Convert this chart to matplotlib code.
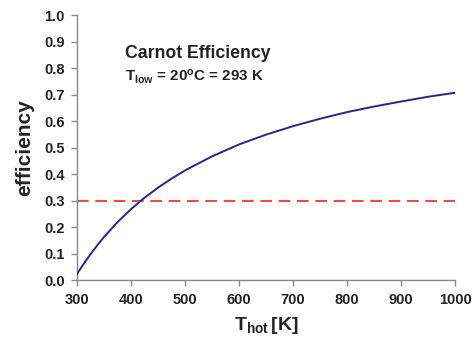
import numpy as np
import matplotlib
matplotlib.use("Agg")
import matplotlib.pyplot as plt

plt.rcParams["font.family"] = ["Liberation Sans", "DejaVu Sans"]
plt.rcParams["font.weight"] = "bold"
plt.rcParams["mathtext.fontset"] = "custom"
plt.rcParams["mathtext.rm"] = "Liberation Sans:bold"
plt.rcParams["mathtext.it"] = "Liberation Sans:bold"
plt.rcParams["mathtext.bf"] = "Liberation Sans:bold"
plt.rcParams["mathtext.default"] = "rm"

# values
t_hot = [300, 310, 325, 340, 350, 375, 400, 425, 450, 475, 500, 550, 600,
         650, 700, 750, 800, 850, 900, 950, 1000]
efficiency = [0.023, 0.055, 0.098, 0.138, 0.163, 0.219, 0.268, 0.311, 0.349,
              0.383, 0.414, 0.467, 0.512, 0.549, 0.581, 0.609, 0.634, 0.655,
              0.674, 0.692, 0.707]
ref_level = 0.3
x_ticks = [300, 400, 500, 600, 700, 800, 900, 1000]
y_ticks = [0.0, 0.1, 0.2, 0.3, 0.4, 0.5, 0.6, 0.7, 0.8, 0.9, 1.0]

fig = plt.figure(figsize=(4.73, 3.37), dpi=100)
ax = fig.add_axes([0.163, 0.169, 0.799, 0.786])

ax.plot(t_hot, efficiency, color="#26268a", lw=1.4, zorder=3)
ax.plot([t_hot[0], t_hot[-1]], [ref_level, ref_level], color="#ee2222",
        lw=1.2, dashes=(7, 4), zorder=2)

ax.set_xlim(300, 1000)
ax.set_ylim(0, 1.0)
ax.set_xticks(x_ticks)
ax.set_yticks(y_ticks)
ax.set_yticklabels([f"{v:.1f}" for v in y_ticks])
for s in ["top", "right"]:
    ax.spines[s].set_visible(False)
for s in ["left", "bottom"]:
    ax.spines[s].set_color("#888888")
    ax.spines[s].set_linewidth(1.0)
ax.tick_params(direction="out", length=4, width=1, color="#888888",
               labelsize=10.5, labelcolor="#222222", pad=5)

ax.set_ylabel("efficiency", fontsize=15, fontweight="bold", color="#222222",
              labelpad=7)
ax.set_xlabel(r"T$_{\mathregular{hot}}\,$[K]", fontsize=14, fontweight="bold",
              color="#222222", labelpad=6)

ax.text(0.127, 0.838, "Carnot Efficiency", transform=ax.transAxes,
        fontsize=12.7, fontweight="bold", color="#222222", va="baseline")
ax.text(0.127, 0.751, r"T$_{\mathregular{low}}$ = 20$^{\mathregular{o}}$C = 293 K",
        transform=ax.transAxes, fontsize=10.9, fontweight="bold",
        color="#222222", va="baseline")

fig.savefig("out.png", dpi=100)
